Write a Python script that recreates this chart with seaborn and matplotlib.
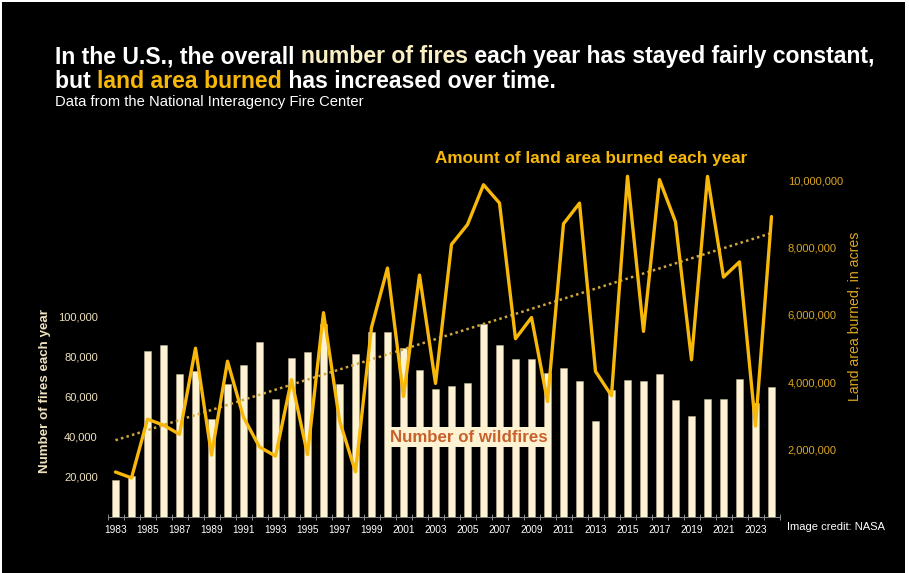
import numpy as np
import pandas as pd
import matplotlib
matplotlib.use("Agg")
import matplotlib.pyplot as plt
from matplotlib.patches import Rectangle
from matplotlib.ticker import FixedLocator, FuncFormatter
import seaborn as sns

# ------------------ DATA ------------------
years = list(range(1983, 2025))
fires = [18229, 20493, 82591, 85907, 71300, 72750, 48949, 66481, 75754, 87394,
         58810, 79107, 82234, 96363, 66196, 81043, 92487, 92250, 84079, 73457,
         63629, 65461, 66753, 96385, 85705, 78979, 78792, 71971, 74126, 67774,
         47579, 63312, 68151, 67743, 71499, 58083, 50477, 58950, 58985, 68988,
         56580, 64897]
acres = [1323666, 1148409, 2896147, 2719162, 2447296, 5009290, 1827310, 4621621,
         2953578, 2069929, 1797574, 4073579, 1840546, 6065998, 2856959, 1329704,
         5626093, 7393493, 3570911, 7184712, 3960842, 8097880, 8689389, 9873745,
         9328045, 5292468, 5921786, 3422724, 8711367, 9326238, 4319546, 3595613,
         10125149, 5509995, 10026086, 8767492, 4664364, 10122336, 7125643, 7577183,
         2693910, 8924884]
year_labels = list(range(1983, 2024, 2))
fire_ticks = [20000, 40000, 60000, 80000, 100000]
acre_ticks = [2000000, 4000000, 6000000, 8000000, 10000000]

df = pd.DataFrame({"Year": years, "Fires": fires, "Acres": acres})

# ------------------ STYLE ------------------
CREAM = "#fdf3d3"
CREAM_TXT = "#efe2bf"
GOLD = "#f7b80a"
GOLD_TXT = "#dba622"
TREND = "#d2a83e"
RUST = "#c8612c"

sns.set_style("dark", {"axes.facecolor": "none", "figure.facecolor": "white"})
plt.rcParams["font.family"] = ["Liberation Sans", "DejaVu Sans"]
NARROW = ["Liberation Sans Narrow", "Liberation Sans", "DejaVu Sans"]

W, H = 909, 573
fig = plt.figure(figsize=(W / 100, H / 100), dpi=100)
fig.add_artist(Rectangle((2 / W, 0), 903 / W, 571 / H, transform=fig.transFigure,
                         facecolor="black", edgecolor="none", zorder=-10))

# axes: zero at y=516.5px, 1983 centred at x=115.5px, 16 px per year
ax = fig.add_axes([107.5 / W, 56.5 / H, 672 / W, 356.5 / H])
ax2 = ax.twinx()

# ------------------ PLOTTING ------------------
sns.barplot(data=df, x="Year", y="Fires", native_scale=True, width=0.47,
            color=CREAM, saturation=1, edgecolor="#b8ae94", linewidth=0.4, ax=ax)

sns.regplot(data=df, x="Year", y="Acres", scatter=False, ci=None, truncate=True,
            color=TREND, line_kws={"linestyle": (0, (1, 1.3)), "linewidth": 1.8},
            ax=ax2)
sns.lineplot(data=df, x="Year", y="Acres", color=GOLD, linewidth=2.4, ax=ax2)

ax.set_xlim(1982.5, 2024.5)
ax.set_ylim(0, 356.5 * 500)
ax2.set_ylim(0, 356.5 / 33.6 * 1e6)

# x axis
ax.xaxis.set_major_locator(FixedLocator(year_labels))
ax.set_xticklabels([str(y) for y in year_labels])
ax.xaxis.set_minor_locator(FixedLocator(np.arange(1982.5, 2025, 1)))
ax.tick_params(axis="x", which="major", length=0, pad=6, labelsize=7.3,
               labelcolor="white")
ax.tick_params(axis="x", which="minor", length=4, width=0.7, direction="inout",
               color="#8a8a8a", bottom=True)

# y axes
ax.set_yticks(fire_ticks)
ax.yaxis.set_major_formatter(FuncFormatter(lambda v, p: f"{int(v):,}"))
ax.tick_params(axis="y", length=0, pad=7, labelsize=8, labelcolor=CREAM_TXT)
ax2.set_yticks(acre_ticks)
ax2.yaxis.set_major_formatter(FuncFormatter(lambda v, p: f"{int(v):,}"))
ax2.tick_params(axis="y", length=0, pad=6, labelsize=8, labelcolor=GOLD_TXT)

for a in (ax, ax2):
    a.set_xlabel("")
    a.set_ylabel("")
    a.grid(False)
    for s in a.spines.values():
        s.set_visible(False)
ax.spines["bottom"].set_visible(True)
ax.spines["bottom"].set_color("#8a8a8a")
ax.spines["bottom"].set_linewidth(0.7)

# axis titles
fig.text(45 / W, 1 - 391 / H, "Number of fires each year", rotation=90,
         ha="center", va="center", fontsize=9.6, fontweight="bold", color=CREAM_TXT)
fig.text(855 / W, 1 - 316 / H, "Land area burned, in acres", rotation=90,
         ha="center", va="center", fontsize=10.2, color=GOLD_TXT)

# series labels
fig.text(591 / W, 1 - 159 / H, "Amount of land area burned each year",
         ha="center", va="center", fontsize=12.3, fontweight="bold", color=GOLD)
fig.text(469 / W, 1 - 437 / H, "Number of wildfires", ha="center", va="center",
         fontsize=12.2, fontweight="bold", color=RUST,
         bbox=dict(facecolor=CREAM, edgecolor="none", pad=1.5))

# title, two lines with coloured parts
def chain(parts, x, y):
    prev = fig.text(x, y, parts[0][0], color=parts[0][1], fontsize=16.6,
                    fontweight="bold", family=NARROW, va="baseline", ha="left")
    for txt, col in parts[1:]:
        prev = ax.annotate(txt, xy=(1, 0), xycoords=prev, va="bottom", ha="left",
                           color=col, fontsize=16.6, fontweight="bold",
                           family=NARROW)

chain([("In the U.S., the overall ", "white"), ("number of fires", "#fbefc4"),
       (" each year has stayed fairly constant,", "white")], 55 / W, 1 - 63 / H)
chain([("but ", "white"), ("land area burned", GOLD),
       (" has increased over time.", "white")], 55 / W, 1 - 88 / H)
fig.text(55 / W, 1 - 106 / H, "Data from the National Interagency Fire Center",
         fontsize=10.6, color="white", family=NARROW, va="baseline")

fig.text(787 / W, 1 - 527 / H, "Image credit: NASA", fontsize=8, color="white",
         va="center", ha="left")

fig.savefig("out.png", dpi=100)
